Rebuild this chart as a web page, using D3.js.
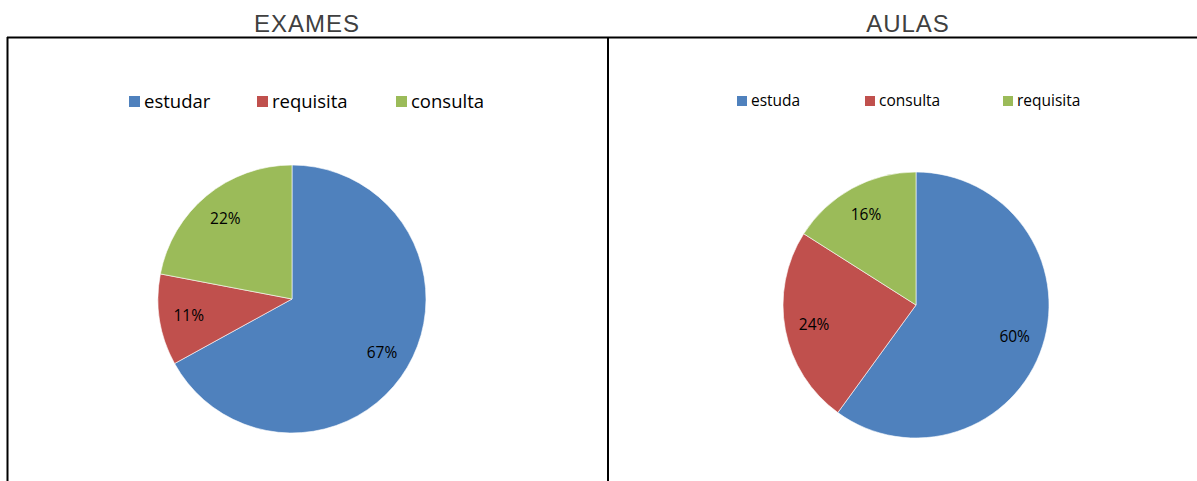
<!DOCTYPE html>
<html>
<head>
<meta charset="utf-8">
<script src="https://cdn.jsdelivr.net/npm/d3@7"></script>
<style>
body { margin: 0; background: #fff; }
svg { display: block; }
</style>
</head>
<body>
<svg id="chart" width="1197" height="481"></svg>
<script>
// data
var exames_labels = ["estudar", "requisita", "consulta"];
var exames_values = [67, 11, 22];
var aulas_labels = ["estuda", "consulta", "requisita"];
var aulas_values = [60, 24, 16];
var slice_colors = ["#4F81BD", "#C0504D", "#9BBB59"];

var svg = d3.select("#chart");

// frame lines
svg.append("line").attr("x1", 7).attr("x2", 1197).attr("y1", 37.5).attr("y2", 37.5)
    .attr("stroke", "#000").attr("stroke-width", 2);
svg.append("line").attr("x1", 7.5).attr("x2", 7.5).attr("y1", 37).attr("y2", 481)
    .attr("stroke", "#000").attr("stroke-width", 2);
svg.append("line").attr("x1", 608).attr("x2", 608).attr("y1", 37).attr("y2", 481)
    .attr("stroke", "#000").attr("stroke-width", 2);

function draw_pie(p_title, p_title_x, p_labels, p_values, p_cx, p_cy, p_r, p_legend_x, p_legend_font, p_box)
{
    svg.append("text")
        .attr("x", p_title_x).attr("y", 32)
        .attr("text-anchor", "middle")
        .style("font-family", "'Liberation Sans', Arial, sans-serif")
        .style("font-size", "24px")
        .style("letter-spacing", "1px")
        .style("fill", "#404040")
        .text(p_title);

    var color = d3.scaleOrdinal().domain(p_labels).range(slice_colors);

    var g = svg.append("g").attr("transform", "translate(" + p_cx + "," + p_cy + ")");
    var pie = d3.pie().sort(null).value(function(d) { return d.value; });
    var arcs = pie(p_labels.map(function(l, i) { return { label: l, value: p_values[i] }; }));
    var arc = d3.arc().innerRadius(0).outerRadius(p_r);
    var label_arc = d3.arc().innerRadius(p_r * 0.78).outerRadius(p_r * 0.78);

    g.selectAll("path.slice").data(arcs).enter().append("path")
        .attr("class", "slice")
        .attr("d", arc)
        .attr("fill", function(d) { return color(d.data.label); })
        .attr("stroke", "#fff")
        .attr("stroke-width", 0.6);

    g.selectAll("text.pct").data(arcs).enter().append("text")
        .attr("class", "pct")
        .attr("transform", function(d) { return "translate(" + label_arc.centroid(d) + ")"; })
        .attr("text-anchor", "middle")
        .attr("dy", "0.35em")
        .style("font-family", "'Open Sans', sans-serif")
        .style("font-size", "15.5px")
        .style("fill", "#000")
        .text(function(d) { return d.data.value + "%"; });

    // legend
    var lg = svg.append("g");
    var items = lg.selectAll("g").data(p_labels).enter().append("g")
        .attr("transform", function(d, i) { return "translate(" + p_legend_x[i] + ",96)"; });
    items.append("rect")
        .attr("width", p_box).attr("height", p_box)
        .attr("fill", function(d) { return color(d); });
    items.append("text")
        .attr("x", p_box + 4).attr("y", p_box / 2)
        .attr("dy", "0.35em")
        .style("font-family", "'Open Sans', sans-serif")
        .style("font-size", p_legend_font + "px")
        .style("fill", "#000")
        .text(function(d) { return d; });
}

draw_pie("EXAMES", 307, exames_labels, exames_values, 292, 299, 134, [129, 257, 396], 18.5, 11);
draw_pie("AULAS", 908, aulas_labels, aulas_values, 916, 305, 133, [737, 865, 1003], 15.5, 10);
</script>
</body>
</html>
